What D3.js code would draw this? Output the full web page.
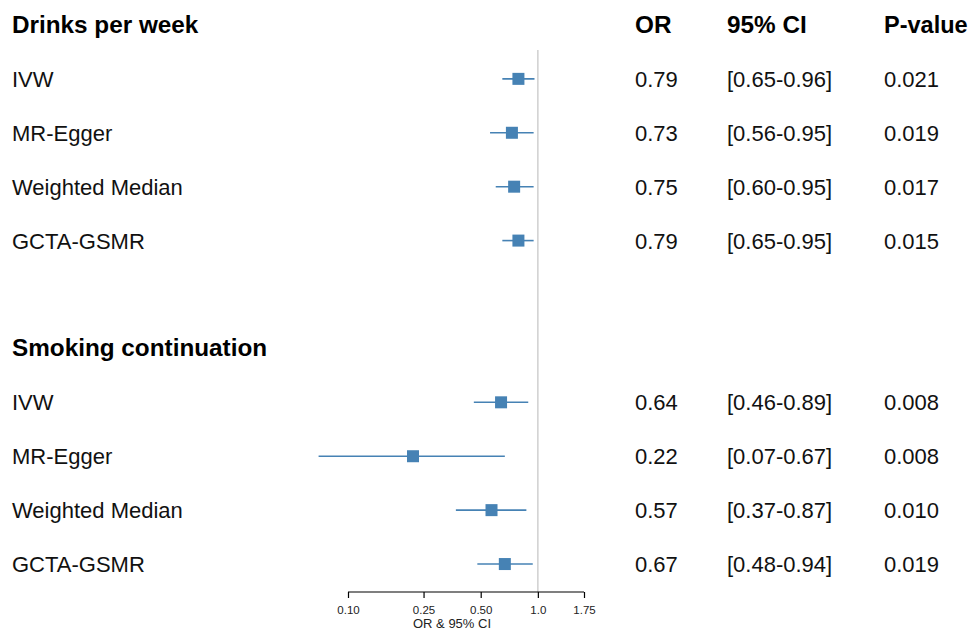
<!DOCTYPE html>
<html>
<head>
<meta charset="utf-8">
<script src="https://cdn.jsdelivr.net/npm/d3@7"></script>
<style>
  body { margin: 0; background: #fff; }
  svg { font-family: "Liberation Sans", Arial, Helvetica, sans-serif; }
</style>
</head>
<body>
<svg id="forest" width="972" height="631"></svg>
<script>
// groups and methods
var groups = ["Drinks per week", "Smoking continuation"];
var methods = ["IVW", "MR-Egger", "Weighted Median", "GCTA-GSMR"];

// OR, lower CI, upper CI, p-values per group
var orValues = [[0.79, 0.73, 0.75, 0.79], [0.64, 0.22, 0.57, 0.67]];
var ciLower  = [[0.65, 0.56, 0.60, 0.65], [0.46, 0.07, 0.37, 0.48]];
var ciUpper  = [[0.96, 0.95, 0.95, 0.95], [0.89, 0.67, 0.87, 0.94]];
var pValues  = [["0.021", "0.019", "0.017", "0.015"], ["0.008", "0.008", "0.010", "0.019"]];

var tickValues = [0.10, 0.25, 0.50, 1.0, 1.75];
var tickLabels = ["0.10", "0.25", "0.50", "1.0", "1.75"];

var svg = d3.select("#forest");
var blue = "#4682b4";

// build rows: header, 4 methods, blank, header, 4 methods
var rows = [];
groups.forEach(function(g, gi) {
    if (gi > 0) rows.push({ type: "blank" });
    rows.push({ type: "header", label: g });
    methods.forEach(function(m, mi) {
        rows.push({ type: "item", label: m, or: orValues[gi][mi], lo: ciLower[gi][mi], hi: ciUpper[gi][mi], p: pValues[gi][mi] });
    });
});

var yScale = d3.scaleBand()
    .domain(d3.range(rows.length))
    .range([-2, 591])
    .padding(0);

var xScale = d3.scaleLog()
    .domain([0.10, 1.75])
    .range([348, 584]);

var yc = function(i) { return yScale(i) + yScale.bandwidth() / 2; };

// reference line at OR = 1
svg.append("line")
    .attr("x1", xScale(1)).attr("x2", xScale(1))
    .attr("y1", 50).attr("y2", 592)
    .attr("stroke", "#cfcfcf")
    .attr("stroke-width", 1.5);

// column headers
var colX = { or: 635, ci: 727, p: 884 };
var hdrSize = 24.3, txtSize = 22;
svg.append("text").attr("x", colX.or).attr("y", yc(0) + 8).attr("font-size", hdrSize).attr("font-weight", "bold").text("OR");
svg.append("text").attr("x", colX.ci).attr("y", yc(0) + 8).attr("font-size", hdrSize).attr("font-weight", "bold").text("95% CI");
svg.append("text").attr("x", colX.p).attr("y", yc(0) + 8).attr("font-size", 23.5).attr("font-weight", "bold").text("P-value");

rows.forEach(function(r, i) {
    if (r.type === "blank") return;
    var y = yc(i);
    if (r.type === "header") {
        svg.append("text").attr("x", 12).attr("y", y + 8)
            .attr("font-size", hdrSize).attr("font-weight", "bold").attr("fill", "#000")
            .text(r.label);
        return;
    }
    svg.append("text").attr("x", 12).attr("y", y + 8).attr("font-size", txtSize).attr("fill", "#111").text(r.label);
    svg.append("text").attr("x", colX.or).attr("y", y + 8).attr("font-size", txtSize).attr("fill", "#111").text(r.or.toFixed(2));
    svg.append("text").attr("x", colX.ci).attr("y", y + 8).attr("font-size", txtSize).attr("fill", "#111")
        .text("[" + r.lo.toFixed(2) + "-" + r.hi.toFixed(2) + "]");
    svg.append("text").attr("x", colX.p).attr("y", y + 8).attr("font-size", txtSize).attr("fill", "#111").text(r.p);

    // CI line
    svg.append("line")
        .attr("x1", xScale(r.lo)).attr("x2", xScale(r.hi))
        .attr("y1", y).attr("y2", y)
        .attr("stroke", blue).attr("stroke-width", 1.6);
    // point estimate
    svg.append("rect")
        .attr("x", xScale(r.or) - 6).attr("y", y - 6)
        .attr("width", 12).attr("height", 12)
        .attr("fill", blue);
});

// x axis
var axisG = svg.append("g")
    .attr("transform", "translate(0,592)")
    .call(d3.axisBottom(xScale).tickValues(tickValues).tickFormat(function(d, i) { return tickLabels[i]; }).tickSize(6).tickPadding(8));
axisG.select(".domain").attr("stroke", "#000").attr("stroke-width", 1.2).attr("d", "M" + xScale(0.10) + ",0H" + xScale(1.75));
axisG.selectAll(".tick line").attr("stroke", "#000").attr("stroke-width", 1.2);
axisG.selectAll(".tick text").attr("font-size", 11.5).attr("fill", "#222").attr("font-family", "Liberation Sans, Arial, sans-serif");

svg.append("text")
    .attr("x", 452)
    .attr("y", 628)
    .attr("text-anchor", "middle")
    .attr("font-size", 13)
    .attr("fill", "#222")
    .text("OR & 95% CI");
</script>
</body>
</html>
